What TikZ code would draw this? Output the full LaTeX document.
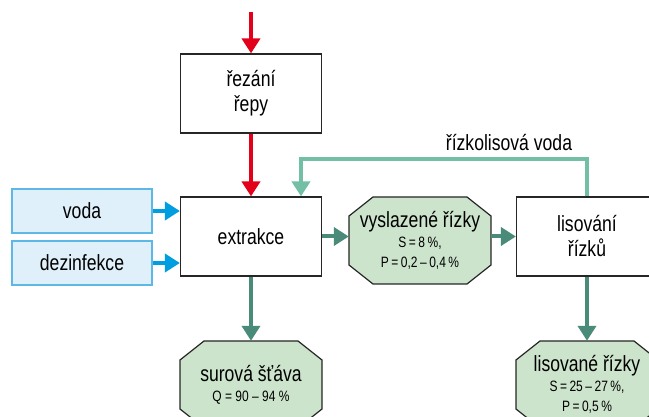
\documentclass[tikz,border=0pt]{standalone}
\usepackage{fontspec}
\setmainfont{Liberation Sans}[FakeStretch=0.8]
\usetikzlibrary{arrows.meta}
\definecolor{cerv}{HTML}{E2001A}
\definecolor{modr}{HTML}{009EE0}
\definecolor{svmodr}{HTML}{DFF0FA}
\definecolor{ramod}{HTML}{5DB8E6}
\definecolor{tmzel}{HTML}{4A8A78}
\definecolor{svzel}{HTML}{72BFA5}
\definecolor{vypln}{HTML}{CCE3CC}
\newcommand{\mensi}{\fontsize{15}{20}\selectfont}
% osmiuhelnik kolem stredu #1
\newcommand{\osmi}[1]{\filldraw[fill=vypln, draw=black!85, line width=1.2pt]
        (#1) ++(-47,-43.5) -- ++(94,0) -- ++(24,19) -- ++(0,49) -- ++(-24,19)
        -- ++(-94,0) -- ++(-24,-19) -- ++(0,-49) -- cycle;}
\tikzstyle{box} = [draw=black!85, line width=1.2pt, fill=white, minimum width=141pt, minimum height=79pt, align=center, inner sep=0pt, font=\fontsize{22}{25}\selectfont]
\tikzstyle{inbox} = [draw=ramod, line width=1.2pt, fill=svmodr, minimum width=140pt, minimum height=44pt, inner sep=0pt, font=\fontsize{22}{25}\selectfont]
\tikzstyle{octo} = [minimum width=142pt, minimum height=87pt, align=center, inner sep=0pt, font=\fontsize{22}{20}\selectfont]
\tikzstyle{arrow} = [line width=4pt, -{Triangle[length=15pt,width=18pt]}]

\begin{document}
\begin{tikzpicture}[x=1pt,y=-1pt]
        \useasboundingbox (0,0) rectangle (649,417);
        \clip (0,0) rectangle (649,417);
        %uzly
        \node[box] (rez) at (251,93.5) {řezání\\řepy};
        \node[box] (extr) at (251,236.5) {extrakce};
        \node[inbox] (voda) at (82,211) {voda};
        \node[inbox] (dez) at (82,263) {dezinfekce};
        \osmi{420,240.5}
        \node[octo] (vysl) at (420,240.5) {vyslazené řízky\\{\mensi S\,=\,8\,\%,}\\{\mensi P\,=\,0,2\,–\,0,4\,\%}};
        \node[box] (lis) at (587,236.5) {lisování\\řízků};
        \osmi{251,384.5}
        \node[octo] (sur) at (251,384.5) {surová šťáva\\{\mensi Q = 90 – 94 \%}};
        \osmi{587,384.5}
        \node[octo] (lisr) at (587,384.5) {lisované řízky\\{\mensi S\,=\,25\,–\,27\,\%,}\\{\mensi P\,=\,0,5\,\%}};
        \node[font=\fontsize{22}{25}\selectfont] (fblabel) at (509,143) {řízkolisová voda};
        \coordinate (vstup) at (251,12);
        %sipky
        \draw[arrow, cerv] (vstup) -- (rez.north);
        \draw[arrow, cerv] (rez) -- (extr);
        \draw[arrow, modr] (voda.east) -- (voda.east -| extr.west);
        \draw[arrow, modr] (dez.east) -- (dez.east -| extr.west);
        \draw[arrow, tmzel] (extr) -- (sur);
        \draw[arrow, tmzel] (extr.east) -- (extr.east -| vysl.west);
        \draw[arrow, tmzel] (vysl.east |- lis.west) -- (lis.west);
        \draw[arrow, tmzel] (lis) -- (lisr);
        %zpetna voda
        \draw[arrow, svzel] (lis.north) -- ++(0,-37) -| ([xshift=50pt]extr.north);
    \end{tikzpicture}
\end{document}
